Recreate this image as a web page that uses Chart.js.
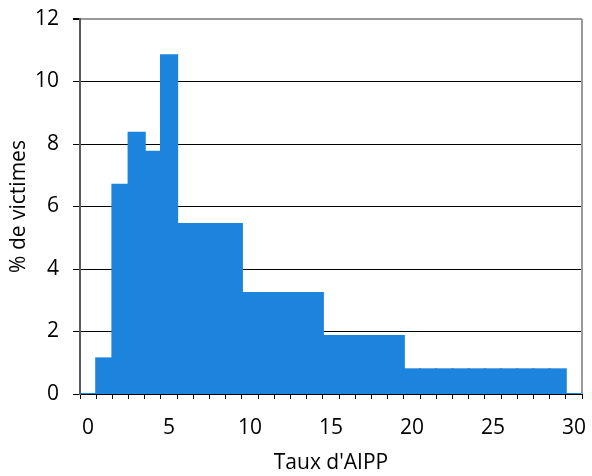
<!DOCTYPE html>
<html>
<head>
<meta charset="utf-8">
<script src="https://cdn.jsdelivr.net/npm/chart.js@4"></script>
<style>
  html, body { margin: 0; padding: 0; background: #fff; }
  #wrap { width: 592px; height: 476px; }
</style>
</head>
<body>
<div id="wrap"><canvas id="histo"></canvas></div>
<script>
// catégories 0..30 (une par point d'AIPP)
const tauxLabels = Array.from({ length: 31 }, (_, i) => String(i));

// % de victimes par tranche
const pctVictimes = [
  0, 1.14, 6.70, 8.36, 7.75, 10.84,
  5.44, 5.44, 5.44, 5.44,
  3.23, 3.23, 3.23, 3.23, 3.23,
  1.86, 1.86, 1.86, 1.86, 1.86,
  0.79, 0.79, 0.79, 0.79, 0.79, 0.79, 0.79, 0.79, 0.79, 0.79,
  0
];

const yTicks = [0, 2, 4, 6, 8, 10, 12];

const FONT = { family: 'Open Sans', size: 21 };
const BAR_BLUE = '#1c84dc';

// bord droit gris du cadre
const cadreDroit = {
  id: 'cadreDroit',
  afterDraw(chart) {
    const { ctx, chartArea } = chart;
    ctx.save();
    ctx.strokeStyle = '#9a9a9a';
    ctx.lineWidth = 2;
    ctx.beginPath();
    ctx.moveTo(chartArea.right, chartArea.top);
    ctx.lineTo(chartArea.right, chartArea.bottom);
    ctx.stroke();
    ctx.restore();
  }
};

new Chart(document.getElementById('histo'), {
  type: 'bar',
  data: {
    labels: tauxLabels,
    datasets: [{
      data: pctVictimes,
      backgroundColor: BAR_BLUE,
      borderWidth: 0,
      inflateAmount: 1,
      barPercentage: 1,
      categoryPercentage: 1
    }]
  },
  options: {
    responsive: true,
    maintainAspectRatio: false,
    animation: false,
    layout: { padding: { top: 19, right: 10, left: 0, bottom: 0 } },
    plugins: {
      legend: { display: false },
      tooltip: { enabled: false }
    },
    scales: {
      x: {
        offset: true,
        grid: {
          offset: true,
          drawOnChartArea: false,
          tickLength: 5,
          tickColor: '#000'
        },
        border: { color: '#000', width: 1 },
        ticks: {
          autoSkip: false,
          maxRotation: 0,
          color: '#000',
          font: FONT,
          padding: 16,
          callback: (v, i) => (i % 5 === 0 ? tauxLabels[i] : '')
        },
        title: {
          display: true,
          text: "Taux d'AIPP",
          color: '#000',
          font: FONT,
          padding: { top: 2, bottom: 0 }
        },
        afterFit: s => { s.height = 82; s.paddingLeft = 0; s.paddingRight = 0; }
      },
      y: {
        min: 0,
        max: 12,
        afterBuildTicks: s => { s.ticks = yTicks.map(v => ({ value: v })); },
        grid: {
          color: c => (c.tick && c.tick.value === 12 ? '#9a9a9a' : '#000'),
          lineWidth: c => (c.tick && c.tick.value === 12 ? 2 : 1),
          tickColor: '#000',
          tickLength: 7
        },
        border: { color: '#5a5a5a', width: 2 },
        ticks: {
          color: '#000',
          font: FONT,
          padding: 14
        },
        title: {
          display: true,
          text: '% de victimes',
          color: '#000',
          font: FONT,
          padding: { top: 6, bottom: 0 }
        },
        afterFit: s => { s.width = 80; s.paddingTop = 0; s.paddingBottom = 0; }
      }
    }
  },
  plugins: [cadreDroit]
});
</script>
</body>
</html>
